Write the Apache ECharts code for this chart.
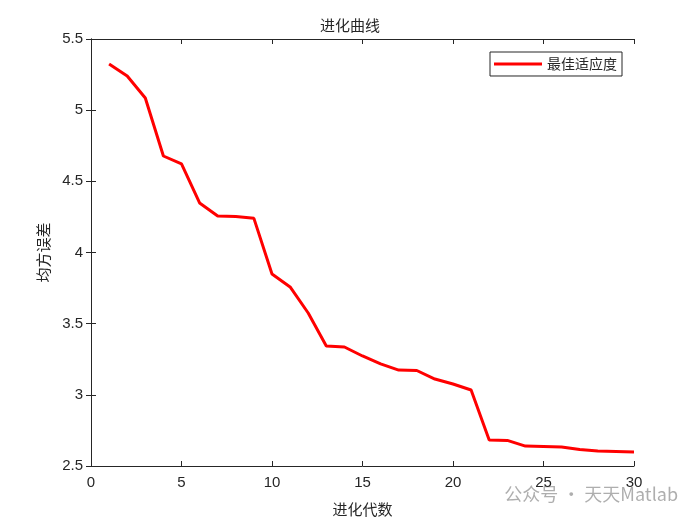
<!DOCTYPE html>
<html><head><meta charset="utf-8">
<script src="https://cdn.jsdelivr.net/npm/echarts@6/dist/echarts.min.js"></script>
<style>html,body{margin:0;padding:0;background:#fff}#c{width:700px;height:525px}</style>
</head><body><div id="c"></div>
<script>
const generations = [1,2,3,4,5,6,7,8,9,10,11,12,13,14,15,16,17,18,19,20,21,22,23,24,25,26,27,28,29,30];
const bestFitness = [5.324,5.24,5.085,4.678,4.622,4.348,4.256,4.253,4.24,3.849,3.758,3.575,3.343,3.336,3.273,3.217,3.174,3.171,3.111,3.076,3.034,2.683,2.68,2.64,2.637,2.634,2.616,2.605,2.602,2.598];
const seriesName = '最佳适应度';
const chartTitle = '进化曲线';
const xName = '进化代数';
const yName = '均方误差';

const chart = echarts.init(document.getElementById('c'), null, {renderer:'canvas'});
const axisLineStyle = {color:'#262626', width:1};
const labelStyle = {color:'#262626', fontSize:15, fontFamily:'Liberation Sans, Arial, sans-serif'};
const cjk = '"Noto Sans CJK SC", sans-serif';
chart.setOption({
  animation:false,
  backgroundColor:'#fff',
  title:{text:chartTitle, left:'center', top:13, textStyle:{fontSize:15, fontWeight:'normal', color:'#262626', fontFamily:cjk}},
  legend:{
    right:78, top:52, orient:'vertical',
    data:[seriesName],
    itemWidth:48, itemHeight:3, itemGap:0,
    borderColor:'#262626', borderWidth:1, borderRadius:0, padding:[5,5,5,4],
    backgroundColor:'#fff',
    icon:'rect',
    textStyle:{fontSize:14, color:'#262626', fontFamily:cjk}
  },
  grid:{left:91, right:66, top:39, bottom:59, containLabel:false},
  xAxis:[{
    type:'value', min:0, max:30, interval:5,
    name:xName, nameLocation:'middle', nameGap:36,
    nameTextStyle:{fontSize:15, color:'#262626', fontFamily:cjk},
    axisLine:{show:true, lineStyle:axisLineStyle},
    axisTick:{show:true, inside:true, length:5, lineStyle:axisLineStyle},
    axisLabel:Object.assign({margin:9}, labelStyle),
    splitLine:{show:false}
  },{
    type:'value', min:0, max:30, interval:5, position:'top',
    axisLine:{show:true, lineStyle:axisLineStyle},
    axisTick:{show:true, inside:true, length:5, lineStyle:axisLineStyle},
    axisLabel:{show:false}, splitLine:{show:false}
  }],
  yAxis:[{
    type:'value', min:2.5, max:5.5, interval:0.5,
    name:yName, nameLocation:'middle', nameGap:40, nameRotate:90,
    nameTextStyle:{fontSize:15, color:'#262626', fontFamily:cjk},
    axisLine:{show:true, lineStyle:axisLineStyle},
    axisTick:{show:true, inside:true, length:5, lineStyle:axisLineStyle},
    axisLabel:Object.assign({margin:8, formatter:v=>String(+v.toFixed(1))}, labelStyle),
    splitLine:{show:false}
  },{
    type:'value', min:2.5, max:5.5, interval:0.5, position:'right',
    axisLine:{show:true, lineStyle:axisLineStyle},
    axisTick:{show:true, inside:true, length:5, lineStyle:axisLineStyle},
    axisLabel:{show:false}, splitLine:{show:false}
  }],
  series:[{
    name:seriesName, type:'line',
    data:generations.map((g,i)=>[g,bestFitness[i]]),
    showSymbol:false, symbol:'none',
    lineStyle:{color:'#ff0000', width:3},
    itemStyle:{color:'#ff0000'}
  }],
  graphic:[{
    type:'text', right:22, top:485,
    style:{text:'公众号 · 天天Matlab', fontSize:18, fill:'rgba(120,120,120,0.6)', fontFamily:cjk}
  }]
});
</script></body></html>
